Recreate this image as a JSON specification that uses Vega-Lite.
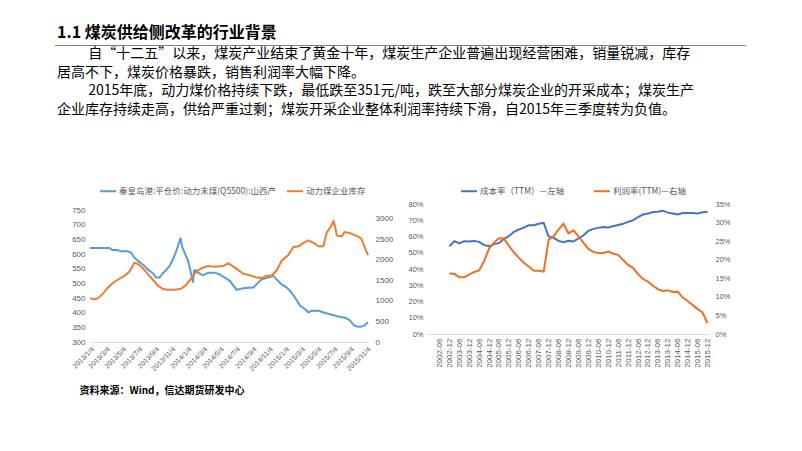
{
  "$schema": "https://vega.github.io/schema/vega-lite/v6.json",
  "background": "white",
  "padding": {"left": 55, "top": 25, "right": 5, "bottom": 5},
  "config": {
    "view": {"stroke": null},
    "font": "Noto Sans CJK SC",
    "axis": {"labelFont": "Liberation Sans", "labelColor": "#595959", "ticks": false, "domain": false, "grid": false},
    "legend": {"labelFont": "Noto Sans CJK SC", "labelColor": "#595959", "labelFontSize": 8.5, "symbolType": "stroke", "symbolSize": 256, "symbolStrokeWidth": 2, "labelOffset": 2, "title": null}
  },
  "title": {"text": "1.1 煤炭供给侧改革的行业背景", "anchor": "start", "fontSize": 16, "fontWeight": "bold", "color": "#000000", "dx": 2, "offset": 4, "font": "Noto Sans CJK SC"},
  "spacing": 1,
  "vconcat": [
    {
      "width": 691,
      "height": 1,
      "view": {"fill": "#808080", "stroke": null},
      "data": {"values": []},
      "mark": {"type": "rule"},
      "encoding": {}
    },
    {
      "title": {
        "text": [
          "‌　　 自“十二五”以来，煤炭产业结束了黄金十年，煤炭生产企业普遍出现经营困难，销量锐减，库存",
          "居高不下，煤炭价格暴跌，销售利润率大幅下降。",
          "‌　　 2015年底，动力煤价格持续下跌，最低跌至351元/吨，跌至大部分煤炭企业的开采成本；煤炭生产",
          "企业库存持续走高，供给严重过剩；煤炭开采企业整体利润率持续下滑，自2015年三季度转为负值。"
        ],
        "anchor": "start", "fontSize": 14, "fontWeight": "normal", "color": "#000000", "lineHeight": 18.6, "offset": 65, "dx": 2, "font": "Noto Sans CJK SC"
      },
      "spacing": 14,
      "resolve": {"scale": {"color": "independent"}, "legend": {"color": "independent"}},
      "hconcat": [
        {
          "width": 1,
          "height": 1,
          "data": {"values": []},
          "mark": {"type": "rule"},
          "encoding": {}
        },
        {
          "width": 278,
          "height": 138,
          "data": {"values": [
            {"d": "2013-01-04", "s": "秦皇岛港:平仓价:动力末煤(Q5500):山西产", "v": 621},
            {"d": "2013-02-08", "s": "秦皇岛港:平仓价:动力末煤(Q5500):山西产", "v": 621},
            {"d": "2013-03-17", "s": "秦皇岛港:平仓价:动力末煤(Q5500):山西产", "v": 621},
            {"d": "2013-03-30", "s": "秦皇岛港:平仓价:动力末煤(Q5500):山西产", "v": 614},
            {"d": "2013-04-15", "s": "秦皇岛港:平仓价:动力末煤(Q5500):山西产", "v": 614},
            {"d": "2013-04-30", "s": "秦皇岛港:平仓价:动力末煤(Q5500):山西产", "v": 610},
            {"d": "2013-05-25", "s": "秦皇岛港:平仓价:动力末煤(Q5500):山西产", "v": 610},
            {"d": "2013-06-07", "s": "秦皇岛港:平仓价:动力末煤(Q5500):山西产", "v": 605},
            {"d": "2013-06-19", "s": "秦皇岛港:平仓价:动力末煤(Q5500):山西产", "v": 588},
            {"d": "2013-07-02", "s": "秦皇岛港:平仓价:动力末煤(Q5500):山西产", "v": 577},
            {"d": "2013-07-14", "s": "秦皇岛港:平仓价:动力末煤(Q5500):山西产", "v": 569},
            {"d": "2013-07-27", "s": "秦皇岛港:平仓价:动力末煤(Q5500):山西产", "v": 560},
            {"d": "2013-08-08", "s": "秦皇岛港:平仓价:动力末煤(Q5500):山西产", "v": 548},
            {"d": "2013-08-27", "s": "秦皇岛港:平仓价:动力末煤(Q5500):山西产", "v": 535},
            {"d": "2013-09-09", "s": "秦皇岛港:平仓价:动力末煤(Q5500):山西产", "v": 520},
            {"d": "2013-09-21", "s": "秦皇岛港:平仓价:动力末煤(Q5500):山西产", "v": 520},
            {"d": "2013-10-04", "s": "秦皇岛港:平仓价:动力末煤(Q5500):山西产", "v": 535},
            {"d": "2013-10-16", "s": "秦皇岛港:平仓价:动力末煤(Q5500):山西产", "v": 546},
            {"d": "2013-10-29", "s": "秦皇岛港:平仓价:动力末煤(Q5500):山西产", "v": 560},
            {"d": "2013-11-10", "s": "秦皇岛港:平仓价:动力末煤(Q5500):山西产", "v": 582},
            {"d": "2013-11-23", "s": "秦皇岛港:平仓价:动力末煤(Q5500):山西产", "v": 611},
            {"d": "2013-12-03", "s": "秦皇岛港:平仓价:动力末煤(Q5500):山西产", "v": 639},
            {"d": "2013-12-09", "s": "秦皇岛港:平仓价:动力末煤(Q5500):山西产", "v": 656},
            {"d": "2013-12-14", "s": "秦皇岛港:平仓价:动力末煤(Q5500):山西产", "v": 628},
            {"d": "2013-12-24", "s": "秦皇岛港:平仓价:动力末煤(Q5500):山西产", "v": 605},
            {"d": "2014-01-06", "s": "秦皇岛港:平仓价:动力末煤(Q5500):山西产", "v": 577},
            {"d": "2014-01-18", "s": "秦皇岛港:平仓价:动力末煤(Q5500):山西产", "v": 531},
            {"d": "2014-01-24", "s": "秦皇岛港:平仓价:动力末煤(Q5500):山西产", "v": 503},
            {"d": "2014-01-28", "s": "秦皇岛港:平仓价:动力末煤(Q5500):山西产", "v": 543},
            {"d": "2014-02-02", "s": "秦皇岛港:平仓价:动力末煤(Q5500):山西产", "v": 546},
            {"d": "2014-02-12", "s": "秦皇岛港:平仓价:动力末煤(Q5500):山西产", "v": 537},
            {"d": "2014-03-03", "s": "秦皇岛港:平仓价:动力末煤(Q5500):山西产", "v": 528},
            {"d": "2014-03-22", "s": "秦皇岛港:平仓价:动力末煤(Q5500):山西产", "v": 537},
            {"d": "2014-04-16", "s": "秦皇岛港:平仓价:动力末煤(Q5500):山西产", "v": 537},
            {"d": "2014-05-04", "s": "秦皇岛港:平仓价:动力末煤(Q5500):山西产", "v": 531},
            {"d": "2014-05-23", "s": "秦皇岛港:平仓价:动力末煤(Q5500):山西产", "v": 520},
            {"d": "2014-06-11", "s": "秦皇岛港:平仓价:动力末煤(Q5500):山西产", "v": 509},
            {"d": "2014-06-30", "s": "秦皇岛港:平仓价:动力末煤(Q5500):山西产", "v": 486},
            {"d": "2014-07-06", "s": "秦皇岛港:平仓价:动力末煤(Q5500):山西产", "v": 478},
            {"d": "2014-07-25", "s": "秦皇岛港:平仓价:动力末煤(Q5500):山西产", "v": 483},
            {"d": "2014-08-19", "s": "秦皇岛港:平仓价:动力末煤(Q5500):山西产", "v": 485},
            {"d": "2014-09-07", "s": "秦皇岛港:平仓价:动力末煤(Q5500):山西产", "v": 486},
            {"d": "2014-09-19", "s": "秦皇岛港:平仓价:动力末煤(Q5500):山西产", "v": 497},
            {"d": "2014-10-08", "s": "秦皇岛港:平仓价:动力末煤(Q5500):山西产", "v": 514},
            {"d": "2014-11-02", "s": "秦皇岛港:平仓价:动力末煤(Q5500):山西产", "v": 520},
            {"d": "2014-11-21", "s": "秦皇岛港:平仓价:动力末煤(Q5500):山西产", "v": 526},
            {"d": "2014-12-03", "s": "秦皇岛港:平仓价:动力末煤(Q5500):山西产", "v": 514},
            {"d": "2014-12-22", "s": "秦皇岛港:平仓价:动力末煤(Q5500):山西产", "v": 497},
            {"d": "2015-01-10", "s": "秦皇岛港:平仓价:动力末煤(Q5500):山西产", "v": 486},
            {"d": "2015-01-22", "s": "秦皇岛港:平仓价:动力末煤(Q5500):山西产", "v": 475},
            {"d": "2015-02-10", "s": "秦皇岛港:平仓价:动力末煤(Q5500):山西产", "v": 452},
            {"d": "2015-03-01", "s": "秦皇岛港:平仓价:动力末煤(Q5500):山西产", "v": 424},
            {"d": "2015-03-20", "s": "秦皇岛港:平仓价:动力末煤(Q5500):山西产", "v": 412},
            {"d": "2015-04-01", "s": "秦皇岛港:平仓价:动力末煤(Q5500):山西产", "v": 401},
            {"d": "2015-04-14", "s": "秦皇岛港:平仓价:动力末煤(Q5500):山西产", "v": 407},
            {"d": "2015-05-09", "s": "秦皇岛港:平仓价:动力末煤(Q5500):山西产", "v": 407},
            {"d": "2015-06-03", "s": "秦皇岛港:平仓价:动力末煤(Q5500):山西产", "v": 399},
            {"d": "2015-06-28", "s": "秦皇岛港:平仓价:动力末煤(Q5500):山西产", "v": 393},
            {"d": "2015-07-23", "s": "秦皇岛港:平仓价:动力末煤(Q5500):山西产", "v": 387},
            {"d": "2015-08-17", "s": "秦皇岛港:平仓价:动力末煤(Q5500):山西产", "v": 383},
            {"d": "2015-09-04", "s": "秦皇岛港:平仓价:动力末煤(Q5500):山西产", "v": 373},
            {"d": "2015-09-17", "s": "秦皇岛港:平仓价:动力末煤(Q5500):山西产", "v": 358},
            {"d": "2015-09-29", "s": "秦皇岛港:平仓价:动力末煤(Q5500):山西产", "v": 353},
            {"d": "2015-10-12", "s": "秦皇岛港:平仓价:动力末煤(Q5500):山西产", "v": 352},
            {"d": "2015-10-25", "s": "秦皇岛港:平仓价:动力末煤(Q5500):山西产", "v": 355},
            {"d": "2015-11-10", "s": "秦皇岛港:平仓价:动力末煤(Q5500):山西产", "v": 367},
            {"d": "2013-01-04", "s": "动力煤企业库存", "v": 1069},
            {"d": "2013-01-20", "s": "动力煤企业库存", "v": 1037},
            {"d": "2013-02-02", "s": "动力煤企业库存", "v": 1069},
            {"d": "2013-02-21", "s": "动力煤企业库存", "v": 1173},
            {"d": "2013-03-11", "s": "动力煤企业库存", "v": 1317},
            {"d": "2013-03-30", "s": "动力煤企业库存", "v": 1438},
            {"d": "2013-04-18", "s": "动力煤企业库存", "v": 1518},
            {"d": "2013-05-13", "s": "动力煤企业库存", "v": 1614},
            {"d": "2013-06-01", "s": "动力煤企业库存", "v": 1718},
            {"d": "2013-06-19", "s": "动力煤企业库存", "v": 1934},
            {"d": "2013-07-02", "s": "动力煤企业库存", "v": 1902},
            {"d": "2013-07-21", "s": "动力煤企业库存", "v": 1798},
            {"d": "2013-08-08", "s": "动力煤企业库存", "v": 1662},
            {"d": "2013-08-27", "s": "动力煤企业库存", "v": 1518},
            {"d": "2013-09-15", "s": "动力煤企业库存", "v": 1373},
            {"d": "2013-10-04", "s": "动力煤企业库存", "v": 1293},
            {"d": "2013-10-23", "s": "动力煤企业库存", "v": 1277},
            {"d": "2013-11-17", "s": "动力煤企业库存", "v": 1277},
            {"d": "2013-12-12", "s": "动力煤企业库存", "v": 1301},
            {"d": "2013-12-30", "s": "动力煤企业库存", "v": 1397},
            {"d": "2014-01-18", "s": "动力煤企业库存", "v": 1558},
            {"d": "2014-02-06", "s": "动力煤企业库存", "v": 1718},
            {"d": "2014-02-25", "s": "动力煤企业库存", "v": 1798},
            {"d": "2014-03-22", "s": "动力煤企业库存", "v": 1854},
            {"d": "2014-04-16", "s": "动力煤企业库存", "v": 1838},
            {"d": "2014-05-17", "s": "动力煤企业库存", "v": 1854},
            {"d": "2014-06-05", "s": "动力煤企业库存", "v": 1918},
            {"d": "2014-06-24", "s": "动力煤企业库存", "v": 1838},
            {"d": "2014-07-12", "s": "动力煤企业库存", "v": 1758},
            {"d": "2014-07-31", "s": "动力煤企业库存", "v": 1662},
            {"d": "2014-08-25", "s": "动力煤企业库存", "v": 1630},
            {"d": "2014-09-19", "s": "动力煤企业库存", "v": 1574},
            {"d": "2014-10-08", "s": "动力煤企业库存", "v": 1558},
            {"d": "2014-10-27", "s": "动力煤企业库存", "v": 1614},
            {"d": "2014-11-14", "s": "动力煤企业库存", "v": 1614},
            {"d": "2014-12-03", "s": "动力煤企业库存", "v": 1742},
            {"d": "2014-12-22", "s": "动力煤企业库存", "v": 1982},
            {"d": "2015-01-16", "s": "动力煤企业库存", "v": 2119},
            {"d": "2015-02-04", "s": "动力煤企业库存", "v": 2319},
            {"d": "2015-02-23", "s": "动力煤企业库存", "v": 2335},
            {"d": "2015-03-13", "s": "动力煤企业库存", "v": 2415},
            {"d": "2015-04-01", "s": "动力煤企业库存", "v": 2479},
            {"d": "2015-04-20", "s": "动力煤企业库存", "v": 2415},
            {"d": "2015-05-09", "s": "动力煤企业库存", "v": 2335},
            {"d": "2015-05-27", "s": "动力煤企业库存", "v": 2335},
            {"d": "2015-06-09", "s": "动力煤企业库存", "v": 2679},
            {"d": "2015-06-21", "s": "动力煤企业库存", "v": 2784},
            {"d": "2015-07-04", "s": "动力煤企业库存", "v": 2936},
            {"d": "2015-07-10", "s": "动力煤企业库存", "v": 2816},
            {"d": "2015-07-16", "s": "动力煤企业库存", "v": 2599},
            {"d": "2015-08-04", "s": "动力煤企业库存", "v": 2575},
            {"d": "2015-08-14", "s": "动力煤企业库存", "v": 2679},
            {"d": "2015-09-04", "s": "动力煤企业库存", "v": 2655},
            {"d": "2015-09-23", "s": "动力煤企业库存", "v": 2599},
            {"d": "2015-10-03", "s": "动力煤企业库存", "v": 2575},
            {"d": "2015-10-16", "s": "动力煤企业库存", "v": 2519},
            {"d": "2015-10-28", "s": "动力煤企业库存", "v": 2319},
            {"d": "2015-11-10", "s": "动力煤企业库存", "v": 2119}
          ]},
          "encoding": {
            "x": {
              "field": "d", "type": "temporal",
              "scale": {"type": "utc", "domain": [{"year": 2013, "month": 1, "date": 4, "utc": true}, {"year": 2015, "month": 11, "date": 10, "utc": true}]},
              "axis": {
                "values": [
                  {"year": 2013, "month": 1, "date": 4, "utc": true}, {"year": 2013, "month": 3, "date": 4, "utc": true}, {"year": 2013, "month": 5, "date": 4, "utc": true},
                  {"year": 2013, "month": 7, "date": 4, "utc": true}, {"year": 2013, "month": 9, "date": 4, "utc": true}, {"year": 2013, "month": 11, "date": 4, "utc": true},
                  {"year": 2014, "month": 1, "date": 4, "utc": true}, {"year": 2014, "month": 3, "date": 4, "utc": true}, {"year": 2014, "month": 5, "date": 4, "utc": true},
                  {"year": 2014, "month": 7, "date": 4, "utc": true}, {"year": 2014, "month": 9, "date": 4, "utc": true}, {"year": 2014, "month": 11, "date": 4, "utc": true},
                  {"year": 2015, "month": 1, "date": 4, "utc": true}, {"year": 2015, "month": 3, "date": 4, "utc": true}, {"year": 2015, "month": 5, "date": 4, "utc": true},
                  {"year": 2015, "month": 7, "date": 4, "utc": true}, {"year": 2015, "month": 9, "date": 4, "utc": true}, {"year": 2015, "month": 11, "date": 4, "utc": true}
                ],
                "format": "%Y/%-m/%-d", "labelAngle": -45, "labelFontSize": 7, "labelPadding": 3, "labelOverlap": false, "labelBound": false,
                "domain": true, "domainColor": "#d9d9d9", "domainWidth": 1,
                "title": "资料来源：Wind，信达期货研发中心", "titleFont": "Noto Sans CJK SC", "titleFontWeight": "bold", "titleFontSize": 10, "titleColor": "#000000",
                "titleX": -11, "titleY": 48, "titleAlign": "left", "titleBaseline": "middle", "titleAngle": 0
              }
            },
            "y": {"field": "v", "type": "quantitative"},
            "color": {
              "field": "s", "type": "nominal",
              "scale": {"domain": ["秦皇岛港:平仓价:动力末煤(Q5500):山西产", "动力煤企业库存"], "range": ["#5B9BD5", "#ED7D31"]},
              "legend": {"orient": "none", "legendX": 9, "legendY": -22, "direction": "horizontal", "columnPadding": 6}
            }
          },
          "layer": [
            {
              "transform": [{"filter": "datum.s !== '动力煤企业库存'"}],
              "mark": {"type": "line", "strokeWidth": 2},
              "encoding": {
                "y": {"field": "v", "type": "quantitative", "scale": {"domain": [300, 771.5]},
                  "axis": {"orient": "left", "title": null, "values": [300, 350, 400, 450, 500, 550, 600, 650, 700, 750], "labelFontSize": 8, "labelPadding": 5}}
              }
            },
            {
              "transform": [{"filter": "datum.s === '动力煤企业库存'"}],
              "mark": {"type": "line", "strokeWidth": 2},
              "encoding": {
                "y": {"field": "v", "type": "quantitative", "scale": {"domain": [0, 3365]},
                  "axis": {"orient": "right", "title": null, "values": [0, 500, 1000, 1500, 2000, 2500, 3000], "format": "d", "labelFontSize": 8, "labelPadding": 7}}
              }
            }
          ],
          "resolve": {"scale": {"y": "independent"}}
        },
        {
          "width": 283,
          "height": 130,
          "data": {"values": [
            {"q": "2002-12", "s": "成本率（TTM）—左轴", "v": 0.539}, {"q": "2003-03", "s": "成本率（TTM）—左轴", "v": 0.571}, {"q": "2003-06", "s": "成本率（TTM）—左轴", "v": 0.557}, {"q": "2003-09", "s": "成本率（TTM）—左轴", "v": 0.571},
            {"q": "2003-12", "s": "成本率（TTM）—左轴", "v": 0.569}, {"q": "2004-03", "s": "成本率（TTM）—左轴", "v": 0.573}, {"q": "2004-06", "s": "成本率（TTM）—左轴", "v": 0.567}, {"q": "2004-09", "s": "成本率（TTM）—左轴", "v": 0.547},
            {"q": "2004-12", "s": "成本率（TTM）—左轴", "v": 0.541}, {"q": "2005-03", "s": "成本率（TTM）—左轴", "v": 0.553}, {"q": "2005-06", "s": "成本率（TTM）—左轴", "v": 0.559}, {"q": "2005-09", "s": "成本率（TTM）—左轴", "v": 0.586},
            {"q": "2005-12", "s": "成本率（TTM）—左轴", "v": 0.602}, {"q": "2006-03", "s": "成本率（TTM）—左轴", "v": 0.629}, {"q": "2006-06", "s": "成本率（TTM）—左轴", "v": 0.643}, {"q": "2006-09", "s": "成本率（TTM）—左轴", "v": 0.655},
            {"q": "2006-12", "s": "成本率（TTM）—左轴", "v": 0.669}, {"q": "2007-03", "s": "成本率（TTM）—左轴", "v": 0.669}, {"q": "2007-06", "s": "成本率（TTM）—左轴", "v": 0.678}, {"q": "2007-09", "s": "成本率（TTM）—左轴", "v": 0.684},
            {"q": "2007-12", "s": "成本率（TTM）—左轴", "v": 0.600}, {"q": "2008-03", "s": "成本率（TTM）—左轴", "v": 0.592}, {"q": "2008-06", "s": "成本率（TTM）—左轴", "v": 0.573}, {"q": "2008-09", "s": "成本率（TTM）—左轴", "v": 0.565},
            {"q": "2008-12", "s": "成本率（TTM）—左轴", "v": 0.573}, {"q": "2009-03", "s": "成本率（TTM）—左轴", "v": 0.569}, {"q": "2009-06", "s": "成本率（TTM）—左轴", "v": 0.588}, {"q": "2009-09", "s": "成本率（TTM）—左轴", "v": 0.606},
            {"q": "2009-12", "s": "成本率（TTM）—左轴", "v": 0.635}, {"q": "2010-03", "s": "成本率（TTM）—左轴", "v": 0.647}, {"q": "2010-06", "s": "成本率（TTM）—左轴", "v": 0.653}, {"q": "2010-09", "s": "成本率（TTM）—左轴", "v": 0.659},
            {"q": "2010-12", "s": "成本率（TTM）—左轴", "v": 0.655}, {"q": "2011-03", "s": "成本率（TTM）—左轴", "v": 0.663}, {"q": "2011-06", "s": "成本率（TTM）—左轴", "v": 0.671}, {"q": "2011-09", "s": "成本率（TTM）—左轴", "v": 0.678},
            {"q": "2011-12", "s": "成本率（TTM）—左轴", "v": 0.690}, {"q": "2012-03", "s": "成本率（TTM）—左轴", "v": 0.700}, {"q": "2012-06", "s": "成本率（TTM）—左轴", "v": 0.720}, {"q": "2012-09", "s": "成本率（TTM）—左轴", "v": 0.735},
            {"q": "2012-12", "s": "成本率（TTM）—左轴", "v": 0.741}, {"q": "2013-03", "s": "成本率（TTM）—左轴", "v": 0.751}, {"q": "2013-06", "s": "成本率（TTM）—左轴", "v": 0.753}, {"q": "2013-09", "s": "成本率（TTM）—左轴", "v": 0.759},
            {"q": "2013-12", "s": "成本率（TTM）—左轴", "v": 0.747}, {"q": "2014-03", "s": "成本率（TTM）—左轴", "v": 0.741}, {"q": "2014-06", "s": "成本率（TTM）—左轴", "v": 0.735}, {"q": "2014-09", "s": "成本率（TTM）—左轴", "v": 0.745},
            {"q": "2014-12", "s": "成本率（TTM）—左轴", "v": 0.745}, {"q": "2015-03", "s": "成本率（TTM）—左轴", "v": 0.745}, {"q": "2015-06", "s": "成本率（TTM）—左轴", "v": 0.741}, {"q": "2015-09", "s": "成本率（TTM）—左轴", "v": 0.749},
            {"q": "2015-12", "s": "成本率（TTM）—左轴", "v": 0.753},
            {"q": "2002-12", "s": "利润率(TTM)—右轴", "v": 0.163}, {"q": "2003-03", "s": "利润率(TTM)—右轴", "v": 0.162}, {"q": "2003-06", "s": "利润率(TTM)—右轴", "v": 0.153}, {"q": "2003-09", "s": "利润率(TTM)—右轴", "v": 0.153},
            {"q": "2003-12", "s": "利润率(TTM)—右轴", "v": 0.160}, {"q": "2004-03", "s": "利润率(TTM)—右轴", "v": 0.167}, {"q": "2004-06", "s": "利润率(TTM)—右轴", "v": 0.171}, {"q": "2004-09", "s": "利润率(TTM)—右轴", "v": 0.196},
            {"q": "2004-12", "s": "利润率(TTM)—右轴", "v": 0.230}, {"q": "2005-03", "s": "利润率(TTM)—右轴", "v": 0.246}, {"q": "2005-06", "s": "利润率(TTM)—右轴", "v": 0.258}, {"q": "2005-09", "s": "利润率(TTM)—右轴", "v": 0.257},
            {"q": "2005-12", "s": "利润率(TTM)—右轴", "v": 0.237}, {"q": "2006-03", "s": "利润率(TTM)—右轴", "v": 0.220}, {"q": "2006-06", "s": "利润率(TTM)—右轴", "v": 0.205}, {"q": "2006-09", "s": "利润率(TTM)—右轴", "v": 0.192},
            {"q": "2006-12", "s": "利润率(TTM)—右轴", "v": 0.182}, {"q": "2007-03", "s": "利润率(TTM)—右轴", "v": 0.170}, {"q": "2007-06", "s": "利润率(TTM)—右轴", "v": 0.170}, {"q": "2007-09", "s": "利润率(TTM)—右轴", "v": 0.168},
            {"q": "2007-12", "s": "利润率(TTM)—右轴", "v": 0.254}, {"q": "2008-03", "s": "利润率(TTM)—右轴", "v": 0.263}, {"q": "2008-06", "s": "利润率(TTM)—右轴", "v": 0.281}, {"q": "2008-09", "s": "利润率(TTM)—右轴", "v": 0.297},
            {"q": "2008-12", "s": "利润率(TTM)—右轴", "v": 0.271}, {"q": "2009-03", "s": "利润率(TTM)—右轴", "v": 0.279}, {"q": "2009-06", "s": "利润率(TTM)—右轴", "v": 0.263}, {"q": "2009-09", "s": "利润率(TTM)—右轴", "v": 0.246},
            {"q": "2009-12", "s": "利润率(TTM)—右轴", "v": 0.229}, {"q": "2010-03", "s": "利润率(TTM)—右轴", "v": 0.221}, {"q": "2010-06", "s": "利润率(TTM)—右轴", "v": 0.218}, {"q": "2010-09", "s": "利润率(TTM)—右轴", "v": 0.218},
            {"q": "2010-12", "s": "利润率(TTM)—右轴", "v": 0.222}, {"q": "2011-03", "s": "利润率(TTM)—右轴", "v": 0.216}, {"q": "2011-06", "s": "利润率(TTM)—右轴", "v": 0.213}, {"q": "2011-09", "s": "利润率(TTM)—右轴", "v": 0.199},
            {"q": "2011-12", "s": "利润率(TTM)—右轴", "v": 0.186}, {"q": "2012-03", "s": "利润率(TTM)—右轴", "v": 0.178}, {"q": "2012-06", "s": "利润率(TTM)—右轴", "v": 0.161}, {"q": "2012-09", "s": "利润率(TTM)—右轴", "v": 0.148},
            {"q": "2012-12", "s": "利润率(TTM)—右轴", "v": 0.141}, {"q": "2013-03", "s": "利润率(TTM)—右轴", "v": 0.130}, {"q": "2013-06", "s": "利润率(TTM)—右轴", "v": 0.121}, {"q": "2013-09", "s": "利润率(TTM)—右轴", "v": 0.115},
            {"q": "2013-12", "s": "利润率(TTM)—右轴", "v": 0.118}, {"q": "2014-03", "s": "利润率(TTM)—右轴", "v": 0.113}, {"q": "2014-06", "s": "利润率(TTM)—右轴", "v": 0.114}, {"q": "2014-09", "s": "利润率(TTM)—右轴", "v": 0.098},
            {"q": "2014-12", "s": "利润率(TTM)—右轴", "v": 0.089}, {"q": "2015-03", "s": "利润率(TTM)—右轴", "v": 0.078}, {"q": "2015-06", "s": "利润率(TTM)—右轴", "v": 0.067}, {"q": "2015-09", "s": "利润率(TTM)—右轴", "v": 0.058},
            {"q": "2015-12", "s": "利润率(TTM)—右轴", "v": 0.029}
          ]},
          "encoding": {
            "x": {
              "field": "q", "type": "ordinal",
              "scale": {"type": "point", "padding": 0.5, "domain": [
                "2001-12", "2002-03", "2002-06", "2002-09", "2002-12", "2003-03", "2003-06", "2003-09", "2003-12", "2004-03", "2004-06", "2004-09", "2004-12",
                "2005-03", "2005-06", "2005-09", "2005-12", "2006-03", "2006-06", "2006-09", "2006-12", "2007-03", "2007-06", "2007-09", "2007-12",
                "2008-03", "2008-06", "2008-09", "2008-12", "2009-03", "2009-06", "2009-09", "2009-12", "2010-03", "2010-06", "2010-09", "2010-12",
                "2011-03", "2011-06", "2011-09", "2011-12", "2012-03", "2012-06", "2012-09", "2012-12", "2013-03", "2013-06", "2013-09", "2013-12",
                "2014-03", "2014-06", "2014-09", "2014-12", "2015-03", "2015-06", "2015-09", "2015-12"]},
              "axis": {
                "values": ["2002-06", "2002-12", "2003-06", "2003-12", "2004-06", "2004-12", "2005-06", "2005-12", "2006-06", "2006-12", "2007-06", "2007-12", "2008-06", "2008-12",
                  "2009-06", "2009-12", "2010-06", "2010-12", "2011-06", "2011-12", "2012-06", "2012-12", "2013-06", "2013-12", "2014-06", "2014-12", "2015-06", "2015-12"],
                "labelAngle": -90, "labelFontSize": 8, "labelPadding": 4, "title": null, "labelOverlap": false,
                "domain": true, "domainColor": "#d9d9d9", "domainWidth": 1
              }
            },
            "y": {"field": "v", "type": "quantitative"},
            "color": {
              "field": "s", "type": "nominal",
              "scale": {"domain": ["成本率（TTM）—左轴", "利润率(TTM)—右轴"], "range": ["#4472C4", "#F26E22"]},
              "legend": {"orient": "none", "legendX": 33, "legendY": -22, "direction": "horizontal", "columnPadding": 25}
            }
          },
          "layer": [
            {
              "transform": [{"filter": "datum.s === '成本率（TTM）—左轴'"}],
              "mark": {"type": "line", "strokeWidth": 2},
              "encoding": {
                "y": {"field": "v", "type": "quantitative", "scale": {"domain": [0, 0.8]},
                  "axis": {"orient": "left", "title": null, "values": [0, 0.1, 0.2, 0.3, 0.4, 0.5, 0.6, 0.7, 0.8], "format": ".0%", "labelFontSize": 7.5, "labelPadding": 4}}
              }
            },
            {
              "transform": [{"filter": "datum.s === '利润率(TTM)—右轴'"}],
              "mark": {"type": "line", "strokeWidth": 2},
              "encoding": {
                "y": {"field": "v", "type": "quantitative", "scale": {"domain": [0, 0.35]},
                  "axis": {"orient": "right", "title": null, "values": [0, 0.05, 0.1, 0.15, 0.2, 0.25, 0.3, 0.35], "format": ".0%", "labelFontSize": 7.5, "labelPadding": 5}}
              }
            }
          ],
          "resolve": {"scale": {"y": "independent"}}
        }
      ]
    }
  ]
}
